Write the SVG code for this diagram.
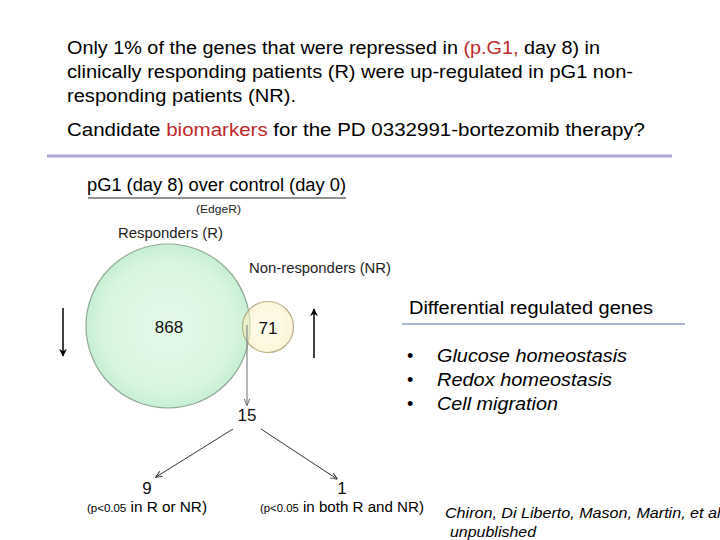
<svg xmlns="http://www.w3.org/2000/svg" width="720" height="540" viewBox="0 0 720 540">
<defs>
<style>
text{font-family:"Liberation Sans",Arial,sans-serif;fill:#000}
.main{font-size:18px}
.red{fill:#c0282d}
.it{font-style:italic}
.lbl{font-size:14px;fill:#222}
.num{font-size:17px;fill:#111}
.sm{font-size:11px;fill:#222}
</style>
<radialGradient id="gR" cx="0.5" cy="0.5" r="0.5">
<stop offset="0" stop-color="#e6faea"/>
<stop offset="0.8" stop-color="#d9f5df"/>
<stop offset="1" stop-color="#c6efd2"/>
</radialGradient>
<radialGradient id="gN" cx="0.5" cy="0.5" r="0.5">
<stop offset="0" stop-color="#fffbe4"/>
<stop offset="1" stop-color="#f8efc0"/>
</radialGradient>
<marker id="ah" viewBox="0 0 10 10" refX="9" refY="5" markerWidth="8" markerHeight="8" orient="auto" markerUnits="userSpaceOnUse"><path d="M0,0 L10,5 L0,10 L3,5 z" fill="#000"/></marker>
<marker id="ahs" viewBox="0 0 10 10" refX="9" refY="5" markerWidth="7" markerHeight="7" orient="auto" markerUnits="userSpaceOnUse"><path d="M0,1 L10,5 L0,9" fill="none" stroke="#333" stroke-width="1.4"/></marker>
<marker id="ahg" viewBox="0 0 10 10" refX="9" refY="5" markerWidth="7" markerHeight="7" orient="auto" markerUnits="userSpaceOnUse"><path d="M0,1 L10,5 L0,9" fill="none" stroke="#666" stroke-width="1.4"/></marker>
</defs>
<rect width="720" height="540" fill="#fff"/>
<g id="intro">
<text class="main" x="67" y="54" textLength="533" lengthAdjust="spacingAndGlyphs">Only 1% of the genes that were repressed in <tspan class="red">(p.G1,</tspan> day 8) in</text>
<text class="main" x="67" y="78" textLength="566" lengthAdjust="spacingAndGlyphs">clinically responding patients (R) were up-regulated in pG1 non-</text>
<text class="main" x="67" y="102" textLength="229" lengthAdjust="spacingAndGlyphs">responding patients (NR).</text>
<text class="main" x="67" y="136" textLength="578" lengthAdjust="spacingAndGlyphs">Candidate <tspan class="red">biomarkers</tspan> for the PD 0332991-bortezomib therapy?</text>
<line x1="47" y1="156" x2="672" y2="156" stroke="#aba8d2" stroke-width="3"/>
</g>
<g id="header">
<text x="87" y="191" style="font-size:18px" fill="#111" textLength="259" lengthAdjust="spacingAndGlyphs">pG1 (day 8) over control (day 0)</text>
<line x1="88" y1="198" x2="346" y2="198" stroke="#222" stroke-width="1"/>
<text class="sm" x="196" y="213" textLength="45" lengthAdjust="spacingAndGlyphs">(EdgeR)</text>
<text class="lbl" x="118" y="238" textLength="105" lengthAdjust="spacingAndGlyphs">Responders (R)</text>
<text class="lbl" x="249" y="273" textLength="142" lengthAdjust="spacingAndGlyphs">Non-responders (NR)</text>
</g>
<g id="venn-R">
<circle cx="168" cy="326" r="82" fill="url(#gR)" stroke="#8fa896" stroke-width="1.2"/>
<text class="num" x="169" y="333" text-anchor="middle">868</text>
</g>
<g id="venn-NR">
<circle cx="268" cy="327" r="25.5" fill="url(#gN)" fill-opacity="0.6" stroke="#b9ae84" stroke-width="1.2"/>
<text class="num" x="268" y="334" text-anchor="middle">71</text>
</g>
<g id="n15"><text class="num" x="247" y="421" text-anchor="middle">15</text></g>
<g id="n9">
<text class="num" x="147" y="494" text-anchor="middle">9</text>
<text x="87" y="512" style="font-size:14px" fill="#222" textLength="120" lengthAdjust="spacingAndGlyphs"><tspan style="font-size:10.5px">(p&lt;0.05</tspan> in R or NR)</text>
</g>
<g id="n1">
<text class="num" x="342" y="494" text-anchor="middle">1</text>
<text x="260" y="512" style="font-size:14px" fill="#222" textLength="164" lengthAdjust="spacingAndGlyphs"><tspan style="font-size:10.5px">(p&lt;0.05</tspan> in both R and NR)</text>
</g>
<g id="connectors">
<line x1="63" y1="308" x2="63" y2="356" stroke="#000" stroke-width="1.5" marker-end="url(#ah)"/>
<line x1="314" y1="358" x2="314" y2="309" stroke="#000" stroke-width="1.5" marker-end="url(#ah)"/>
<line x1="247" y1="325" x2="247" y2="405" stroke="#888" stroke-width="1.2" marker-end="url(#ahg)"/>
<line x1="233" y1="429" x2="156" y2="477" stroke="#333" stroke-width="1" marker-end="url(#ahs)"/>
<line x1="261" y1="429" x2="337" y2="479" stroke="#333" stroke-width="1" marker-end="url(#ahs)"/>
</g>
<g id="genes">
<text class="main" x="409" y="314" textLength="244" lengthAdjust="spacingAndGlyphs">Differential regulated genes</text>
<line x1="402" y1="324" x2="685" y2="324" stroke="#5b6fa6" stroke-width="1"/>
<text class="main" x="407" y="362">•</text>
<text class="main it" x="437" y="362" textLength="190" lengthAdjust="spacingAndGlyphs">Glucose homeostasis</text>
<text class="main" x="407" y="386">•</text>
<text class="main it" x="437" y="386" textLength="175" lengthAdjust="spacingAndGlyphs">Redox homeostasis</text>
<text class="main" x="407" y="410">•</text>
<text class="main it" x="437" y="410" textLength="121" lengthAdjust="spacingAndGlyphs">Cell migration</text>
</g>
<g id="citation">
<text class="it" x="445" y="518" style="font-size:15px" fill="#222" textLength="280" lengthAdjust="spacingAndGlyphs">Chiron, Di Liberto, Mason, Martin, et al.</text>
<text class="it" x="450" y="537" style="font-size:15px" fill="#222" textLength="86" lengthAdjust="spacingAndGlyphs">unpublished</text>
</g>
</svg>
